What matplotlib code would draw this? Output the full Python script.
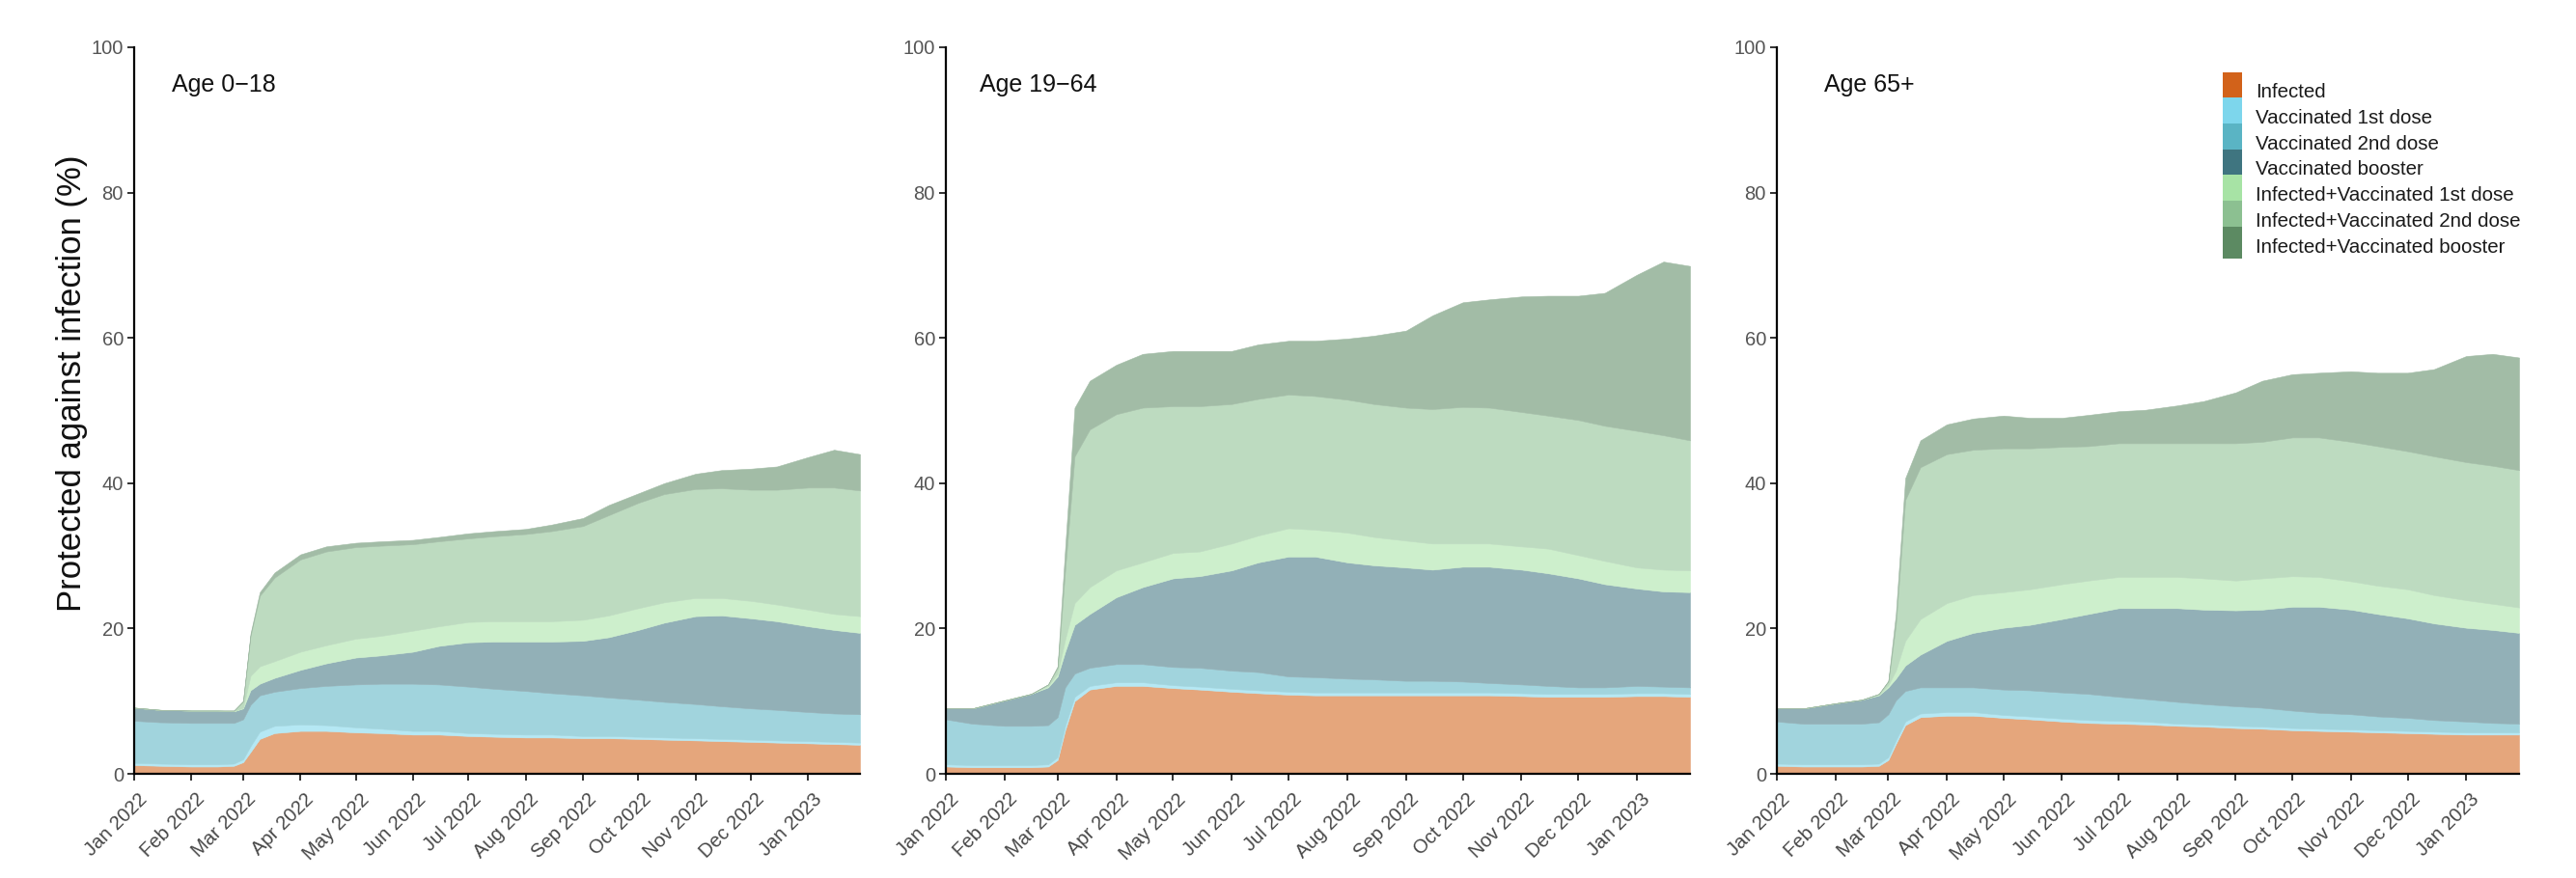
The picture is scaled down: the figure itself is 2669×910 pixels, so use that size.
import matplotlib
matplotlib.use("Agg")
import matplotlib.pyplot as plt
from matplotlib.patches import Patch, Rectangle
from matplotlib.legend_handler import HandlerBase
from matplotlib.transforms import ScaledTranslation
from matplotlib.colors import to_rgb
import pandas as pd

plt.rcParams['font.family'] = ['Liberation Sans', 'DejaVu Sans']

# ---------------------------------------------------------------- data
dates = pd.to_datetime([
    "2022-01-01", "2022-01-15", "2022-02-01", "2022-02-15", "2022-02-24",
    "2022-03-01", "2022-03-05", "2022-03-10", "2022-03-18", "2022-04-01",
    "2022-04-15", "2022-05-01", "2022-05-15", "2022-06-01", "2022-06-15",
    "2022-07-01", "2022-07-15", "2022-08-01", "2022-08-15", "2022-09-01",
    "2022-09-15", "2022-10-01", "2022-10-15", "2022-11-01", "2022-11-15",
    "2022-12-01", "2022-12-15", "2023-01-01", "2023-01-15", "2023-01-29",
])

categories = [
    "Infected",
    "Vaccinated 1st dose",
    "Vaccinated 2nd dose",
    "Vaccinated booster",
    "Infected+Vaccinated 1st dose",
    "Infected+Vaccinated 2nd dose",
    "Infected+Vaccinated booster",
]
colors = ["#D2621A", "#7DD6EC", "#5AB4C4", "#3F7580",
          "#A7E3A5", "#8CC091", "#5C8A62"]

month_ticks = pd.date_range("2022-01-01", "2023-01-01", freq="MS")
month_labels = [d.strftime("%b %Y") for d in month_ticks]
y_ticks = [0, 20, 40, 60, 80, 100]

# Age 0-18 (% of population protected, by category)
kids_inf = [1.2, 1.1, 1.0, 1.0, 1.1, 1.6, 3.0, 4.8, 5.6, 5.9, 5.9, 5.7, 5.6, 5.4, 5.4,
            5.2, 5.1, 5.0, 5.0, 4.9, 4.9, 4.8, 4.7, 4.6, 4.5, 4.4, 4.3, 4.2, 4.1, 4.0]
kids_v1 = [0.3, 0.3, 0.3, 0.3, 0.3, 0.4, 0.8, 1.0, 1.0, 0.9, 0.8, 0.7, 0.6, 0.5, 0.5,
           0.4, 0.4, 0.4, 0.4, 0.3, 0.3, 0.3, 0.3, 0.3, 0.3, 0.3, 0.3, 0.3, 0.3, 0.3]
kids_v2 = [5.8, 5.7, 5.7, 5.7, 5.6, 5.5, 5.7, 5.0, 4.7, 5.0, 5.4, 5.9, 6.2, 6.5, 6.4,
           6.4, 6.2, 6.0, 5.7, 5.6, 5.3, 5.1, 4.9, 4.7, 4.5, 4.3, 4.2, 4.0, 3.9, 3.9]
kids_vb = [1.8, 1.7, 1.7, 1.7, 1.6, 1.5, 2.0, 1.6, 1.9, 2.5, 3.1, 3.7, 3.9, 4.4, 5.3,
           6.1, 6.5, 6.8, 7.1, 7.5, 8.3, 9.6, 10.9, 12.1, 12.5, 12.4, 12.2, 11.8, 11.5, 11.2]
kids_iv1 = [0, 0, 0, 0, 0, 0.1, 2.0, 2.4, 2.3, 2.5, 2.5, 2.6, 2.7, 2.9, 2.7,
            2.8, 2.8, 2.8, 2.8, 2.9, 3.0, 3.0, 2.8, 2.5, 2.4, 2.4, 2.3, 2.3, 2.2, 2.3]
kids_iv2 = [0, 0, 0, 0, 0.1, 0.9, 5.5, 9.7, 11.5, 12.7, 12.9, 12.6, 12.4, 11.9, 11.7,
            11.5, 11.7, 12.0, 12.4, 12.9, 13.8, 14.5, 14.9, 15.0, 15.1, 15.3, 15.8, 16.8, 17.4, 17.3]
kids_ivb = [0, 0, 0, 0, 0, 0, 0.3, 0.5, 0.7, 0.7, 0.7, 0.6, 0.6, 0.6, 0.6,
            0.7, 0.7, 0.7, 0.9, 1.1, 1.4, 1.3, 1.5, 2.1, 2.5, 2.9, 3.2, 4.2, 5.2, 5.0]

# Age 19-64
adult_inf = [1.0, 0.9, 0.9, 0.9, 1.0, 1.9, 6.0, 10.0, 11.6, 12.1, 12.1, 11.8, 11.6, 11.3, 11.1,
             10.9, 10.8, 10.8, 10.8, 10.8, 10.8, 10.8, 10.8, 10.7, 10.6, 10.6, 10.6, 10.7, 10.7, 10.6]
adult_v1 = [0.3, 0.3, 0.3, 0.3, 0.3, 0.4, 0.6, 0.6, 0.5, 0.5, 0.5, 0.4, 0.4, 0.4, 0.4,
            0.4, 0.4, 0.4, 0.4, 0.4, 0.4, 0.4, 0.4, 0.4, 0.4, 0.4, 0.4, 0.4, 0.4, 0.4]
adult_v2 = [6.2, 5.7, 5.4, 5.4, 5.4, 5.5, 5.3, 3.2, 2.5, 2.5, 2.5, 2.5, 2.6, 2.5, 2.5,
            2.1, 2.1, 1.9, 1.8, 1.6, 1.6, 1.5, 1.3, 1.2, 1.1, 0.9, 0.9, 1.0, 0.9, 0.9]
adult_vb = [1.5, 2.1, 3.5, 4.4, 5.2, 5.6, 4.9, 6.7, 7.4, 9.2, 10.6, 12.2, 12.6, 13.8, 15.1,
            16.5, 16.6, 16.0, 15.7, 15.6, 15.3, 15.8, 16.0, 15.8, 15.5, 15.0, 14.2, 13.4, 13.1, 13.1]
adult_iv1 = [0, 0, 0, 0, 0.2, 0.4, 1.7, 3.0, 3.7, 3.7, 3.4, 3.5, 3.4, 3.7, 3.7,
             3.9, 3.7, 4.1, 3.9, 3.7, 3.6, 3.2, 3.2, 3.2, 3.4, 3.2, 3.2, 2.9, 3.0, 3.0]
adult_iv2 = [0, 0, 0, 0, 0.2, 0.8, 9.5, 20.2, 21.7, 21.5, 21.3, 20.2, 20.0, 19.2, 18.8,
             18.4, 18.4, 18.3, 18.3, 18.3, 18.5, 18.8, 18.7, 18.5, 18.3, 18.6, 18.6, 18.8, 18.5, 17.9]
adult_ivb = [0, 0, 0, 0, 0, 0.2, 3.0, 6.7, 6.7, 6.8, 7.4, 7.6, 7.6, 7.3, 7.5,
             7.4, 7.6, 8.4, 9.4, 10.6, 12.9, 14.4, 14.9, 15.9, 16.5, 17.1, 18.3, 21.5, 23.9, 24.0]

# Age 65+
elder_inf = [1.1, 1.0, 1.0, 1.0, 1.1, 1.9, 4.1, 6.7, 7.8, 8.0, 8.0, 7.7, 7.5, 7.2, 7.0,
             6.9, 6.8, 6.6, 6.5, 6.3, 6.2, 6.0, 5.9, 5.8, 5.7, 5.6, 5.5, 5.4, 5.4, 5.4]
elder_v1 = [0.3, 0.3, 0.3, 0.3, 0.3, 0.4, 0.5, 0.5, 0.5, 0.5, 0.5, 0.4, 0.4, 0.4, 0.4,
            0.4, 0.4, 0.3, 0.3, 0.3, 0.3, 0.3, 0.3, 0.3, 0.3, 0.3, 0.3, 0.3, 0.3, 0.3]
elder_v2 = [5.8, 5.6, 5.6, 5.6, 5.7, 5.9, 5.5, 4.2, 3.6, 3.4, 3.4, 3.5, 3.6, 3.6, 3.6,
            3.3, 3.1, 3.0, 2.8, 2.7, 2.6, 2.4, 2.2, 2.1, 1.9, 1.8, 1.6, 1.5, 1.3, 1.2]
elder_vb = [1.8, 2.1, 2.8, 3.3, 3.7, 3.7, 3.0, 3.5, 4.5, 6.4, 7.5, 8.5, 9.0, 10.1, 11.0,
            12.2, 12.5, 12.9, 13.0, 13.2, 13.5, 14.3, 14.6, 14.4, 14.1, 13.7, 13.3, 12.9, 12.8, 12.5]
elder_iv1 = [0, 0, 0, 0, 0.1, 0.3, 1.1, 3.4, 4.9, 5.2, 5.2, 4.9, 4.9, 4.8, 4.6,
             4.3, 4.3, 4.3, 4.3, 4.1, 4.3, 4.2, 4.1, 3.9, 3.9, 4.0, 3.9, 3.8, 3.6, 3.5]
elder_iv2 = [0, 0, 0, 0, 0.1, 0.5, 6.3, 19.4, 20.9, 20.5, 20.0, 19.8, 19.4, 18.9, 18.5,
             18.4, 18.4, 18.4, 18.6, 18.9, 18.8, 19.1, 19.2, 19.2, 19.2, 19.0, 19.1, 19.0, 19.0, 18.9]
elder_ivb = [0, 0, 0, 0, 0, 0.1, 1.5, 3.0, 3.7, 4.1, 4.3, 4.5, 4.2, 4.0, 4.3,
             4.4, 4.6, 5.2, 5.8, 7.0, 8.4, 8.7, 8.9, 9.7, 10.1, 10.8, 12.0, 14.6, 15.4, 15.5]

panels = [
    ("Age 0\u221218", [kids_inf, kids_v1, kids_v2, kids_vb, kids_iv1, kids_iv2, kids_ivb]),
    ("Age 19\u221264", [adult_inf, adult_v1, adult_v2, adult_vb, adult_iv1, adult_iv2, adult_ivb]),
    ("Age 65+", [elder_inf, elder_v1, elder_v2, elder_vb, elder_iv1, elder_iv2, elder_ivb]),
]


class SwatchHandler(HandlerBase):
    """Legend key that fills the whole key box, so swatches stack seamlessly."""

    def create_artists(self, legend, orig_handle, xdescent, ydescent,
                       width, height, fontsize, trans):
        rect = Rectangle((-xdescent, -ydescent), width, height + ydescent,
                         facecolor=orig_handle.get_facecolor(),
                         edgecolor="none", transform=trans)
        return [rect]


# ---------------------------------------------------------------- layout
W, H = 2669, 910
fig = plt.figure(figsize=(W / 100, H / 100), dpi=100)
fig.patch.set_facecolor("white")

# axes boxes in pixels: left, right, top, bottom
boxes = [(139, 891, 49, 802), (980, 1751, 49, 802), (1841, 2610, 49, 802)]
title_x = [0.052, 0.046, 0.064]

# translucent fills, blended onto white so neighbouring layers do not overlap
alpha = 0.57
fills = [tuple(alpha * c + (1 - alpha) for c in to_rgb(col)) for col in colors]

axes = []
for (title, layers), (l, r, t, b), tx in zip(panels, boxes, title_x):
    ax = fig.add_axes([l / W, (H - b) / H, (r - l) / W, (b - t) / H])
    axes.append(ax)
    polys = ax.stackplot(dates, *layers, colors=fills)
    for poly, c in zip(polys, fills):
        poly.set_edgecolor(c)
        poly.set_linewidth(0.4)
    ax.set_xlim(dates[0], dates[-1])
    ax.set_ylim(0, 100)
    for side in ("top", "right"):
        ax.spines[side].set_visible(False)
    for side in ("left", "bottom"):
        ax.spines[side].set_linewidth(1.6)
        ax.spines[side].set_color("black")
        ax.spines[side].set_zorder(5)
    ax.set_yticks(y_ticks)
    ax.set_xticks(month_ticks)
    ax.set_xticklabels(month_labels, rotation=45, ha="right", va="top",
                       rotation_mode="anchor")
    ax.tick_params(axis="both", direction="out", length=5, width=1.3,
                   color="#222222", labelsize=14.5, labelcolor="#474747")
    ax.tick_params(axis="y", pad=3, labelsize=14.5, labelcolor="#555555")
    ax.tick_params(axis="x", pad=7)
    offset = ScaledTranslation(4 / 100, 0, fig.dpi_scale_trans)
    for lab in ax.get_xticklabels():
        lab.set_transform(lab.get_transform() + offset)
    ax.text(tx, 0.948, title, transform=ax.transAxes, fontsize=18,
            ha="left", va="center", color="#111111")

fig.text(75 / W, 0.564, "Protected against infection (%)", rotation=90,
         ha="center", va="center", fontsize=25, color="#111111")

handles = [Patch(facecolor=c, edgecolor="none", label=n) for c, n in zip(colors, categories)]
axes[2].legend(handles=handles, loc="upper left", bbox_to_anchor=(0.601, 0.957),
               frameon=False, fontsize=14.8, handlelength=0.95, handleheight=1.62,
               labelspacing=0, handletextpad=0.7, borderpad=0, borderaxespad=0,
               labelcolor="#1a1a1a", handler_map={Patch: SwatchHandler()})

fig.savefig("out.png", dpi=100, facecolor="white")
